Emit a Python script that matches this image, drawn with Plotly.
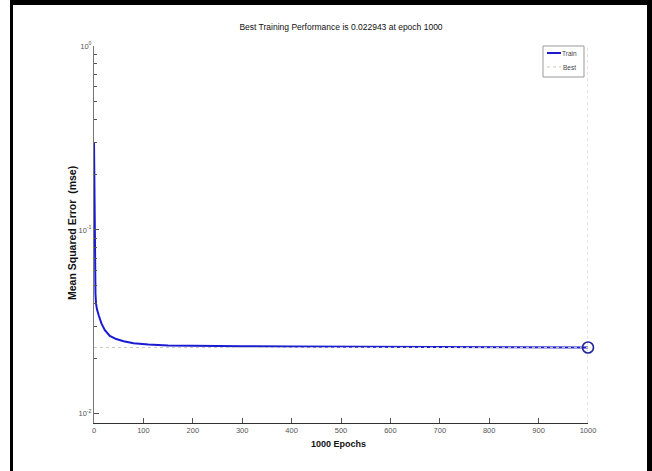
import plotly.graph_objects as go

# ---- data ----
epochs = [0, 1, 2, 3, 4, 6, 10, 15, 22, 32, 45, 60, 80, 110, 150, 200, 300, 400, 500, 700, 850, 1000]
train_mse = [0.30, 0.12, 0.060, 0.045, 0.040, 0.037, 0.034, 0.031, 0.0285, 0.0265, 0.0255,
             0.0248, 0.0242, 0.0238, 0.0235, 0.0234, 0.0233, 0.02325, 0.0232, 0.0231, 0.0230, 0.022943]
best_epoch = 1000
best_perf = 0.022943
x_ticks = [0, 100, 200, 300, 400, 500, 600, 700, 800, 900, 1000]
y_tickvals = [0.01, 0.1, 1]
y_ticktext = ["10<sup>-2</sup>", "10<sup>-1</sup>", "10<sup>0</sup>"]
y_min, y_max = 0.0089, 1.0
x_min, x_max = 0, 1000
legend_names = ["Train", "Best"]

W, H = 652, 471
L, R, T, B = 94, 64, 46, 48
pw, ph = W - L - R, H - T - B

def px(x):
    return (x - L) / pw

def py(y):
    return (H - B - y) / ph

sans = "Liberation Sans Narrow, Arial Narrow, Liberation Sans, Arial, sans-serif"
blue = "#1a1ad2"
best_col = "#c9c9bb"

fig = go.Figure()
fig.add_trace(go.Scatter(
    x=epochs, y=train_mse, mode="lines", name=legend_names[0], showlegend=False,
    line=dict(color=blue, width=2)))
fig.add_trace(go.Scatter(
    x=[x_min, best_epoch, None, best_epoch, best_epoch],
    y=[best_perf, best_perf, None, y_min, y_max],
    mode="lines", name=legend_names[1], showlegend=False,
    line=dict(color=best_col, width=1, dash="dot")))
fig.add_trace(go.Scatter(
    x=[best_epoch], y=[best_perf], mode="markers", showlegend=False,
    marker=dict(symbol="circle-open", size=11, color="#22229a", line=dict(width=1.6)),
    cliponaxis=False))

minor_vals = [m * 10 ** e for e in (-3, -2, -1) for m in range(2, 10)]

# compact MATLAB-style legend box
legend_shapes = [
    dict(type="rect", xref="paper", yref="paper", x0=px(543), x1=px(584), y0=py(77), y1=py(46),
         line=dict(color="#999", width=1), fillcolor="white", layer="above"),
    dict(type="line", xref="paper", yref="paper", x0=px(547), x1=px(561), y0=py(53), y1=py(53),
         line=dict(color=blue, width=2), layer="above"),
    dict(type="line", xref="paper", yref="paper", x0=px(547), x1=px(561), y0=py(67), y1=py(67),
         line=dict(color=best_col, width=1, dash="dot"), layer="above"),
]
legend_texts = [
    dict(text=legend_names[0], x=px(562), xref="paper", y=py(53), yref="paper",
         xanchor="left", yanchor="middle", showarrow=False, xshift=-2,
         font=dict(family=sans, size=6.5, color="#444")),
    dict(text=legend_names[1], x=px(563), xref="paper", y=py(67), yref="paper",
         xanchor="left", yanchor="middle", showarrow=False, xshift=-2,
         font=dict(family=sans, size=6.5, color="#444")),
]

fig.update_layout(
    width=W, height=H,
    margin=dict(l=L, r=R, t=T, b=B),
    paper_bgcolor="white", plot_bgcolor="white",
    title=dict(text="Best Training Performance is 0.022943 at epoch 1000",
               x=0.5, xref="paper", xanchor="center",
               y=1 - 27 / H, yref="container", yanchor="middle",
               font=dict(family=sans, size=8.5, color="#111")),
    showlegend=False,
    xaxis=dict(range=[x_min, x_max], tickvals=x_ticks, ticks="inside", ticklen=5,
               tickcolor="#555", showgrid=False, zeroline=False,
               showline=True, linecolor="#333", linewidth=1,
               tickfont=dict(family=sans, size=7.5, color="#555")),
    yaxis=dict(type="log", range=[-2.05, 0], tickvals=y_tickvals, ticktext=y_ticktext,
               ticks="inside", ticklen=5, tickcolor="#555", showgrid=False, zeroline=False,
               showline=True, linecolor="#777", linewidth=1,
               tickfont=dict(family=sans, size=7.5, color="#555"),
               minor=dict(tickvals=minor_vals, ticks="inside", ticklen=3, tickcolor="#555",
                          showgrid=False)),
    annotations=[
        dict(text="<b>1000 Epochs</b>", x=px(338), xref="paper", y=py(444), yref="paper",
             xanchor="center", yanchor="middle", showarrow=False,
             font=dict(family=sans, size=9, color="#111")),
        dict(text="<b>Mean Squared Error  (mse)</b>", x=px(72), xref="paper", y=py(233),
             yref="paper", xanchor="center", yanchor="middle", textangle=-90, showarrow=False,
             font=dict(family=sans, size=10.5, color="#111")),
    ] + legend_texts,
    shapes=[
        dict(type="line", xref="paper", yref="paper", x0=px(11.5), x1=px(11.5),
             y0=py(471), y1=py(0), line=dict(color="black", width=3)),
        dict(type="line", xref="paper", yref="paper", x0=px(10), x1=px(652),
             y0=py(2.5), y1=py(2.5), line=dict(color="black", width=5)),
        dict(type="line", xref="paper", yref="paper", x0=px(649.5), x1=px(649.5),
             y0=py(471), y1=py(0), line=dict(color="black", width=5)),
    ] + legend_shapes,
)

fig.write_html("out.html")
